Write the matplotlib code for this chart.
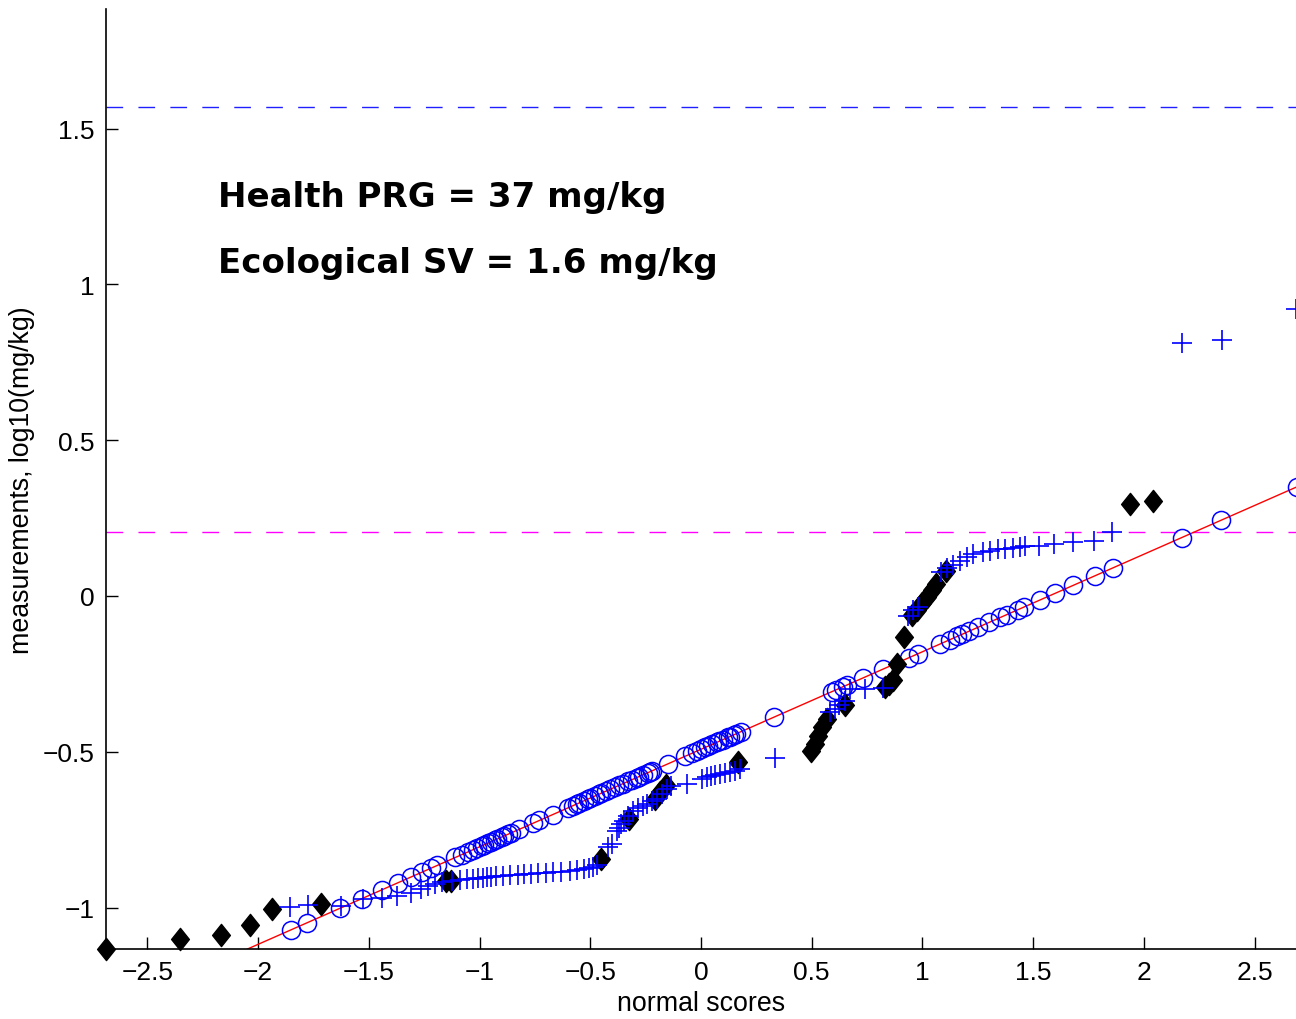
import matplotlib
matplotlib.use("Agg")
import matplotlib.pyplot as plt
from matplotlib.path import Path

# normal-score plot of three sample sets (log10 mg/kg)

# set 1: open circles
circ_x = [-1.85, -1.78, -1.63, -1.53, -1.44, -1.37, -1.31, -1.26, -1.22, -1.19, -1.11, -1.08, -1.05,
          -1.03, -1.01, -0.99, -0.98, -0.96, -0.95, -0.93, -0.92, -0.90, -0.89, -0.87, -0.86,
          -0.82, -0.76, -0.73, -0.67, -0.60,
          -0.58, -0.56, -0.55, -0.53, -0.51, -0.50, -0.48, -0.46, -0.45, -0.43, -0.41, -0.39,
          -0.37, -0.35, -0.33, -0.31, -0.29, -0.28, -0.26, -0.24, -0.23, -0.22,
          -0.15, -0.07,
          -0.04, -0.02, 0.00, 0.02, 0.03, 0.05, 0.07, 0.08, 0.10, 0.12, 0.13, 0.15, 0.16, 0.18,
          0.33,
          0.59, 0.61, 0.64, 0.66, 0.73, 0.82, 0.94, 0.98, 1.08, 1.125, 1.155, 1.18, 1.21, 1.25,
          1.30, 1.35, 1.38, 1.43, 1.46, 1.53, 1.60, 1.68, 1.78, 1.86, 2.17, 2.35, 2.69]
circ_y = [-1.071, -1.049, -1.002, -0.971, -0.943, -0.921, -0.902, -0.886, -0.874, -0.864, -0.839, -0.830, -0.821,
          -0.814, -0.808, -0.802, -0.799, -0.792, -0.789, -0.783, -0.780, -0.774, -0.771, -0.764, -0.761,
          -0.749, -0.730, -0.720, -0.702, -0.680,
          -0.674, -0.667, -0.664, -0.658, -0.652, -0.649, -0.642, -0.636, -0.633, -0.627, -0.620, -0.614,
          -0.608, -0.602, -0.595, -0.589, -0.583, -0.580, -0.573, -0.567, -0.564, -0.561,
          -0.539, -0.514,
          -0.505, -0.498, -0.492, -0.486, -0.483, -0.476, -0.470, -0.467, -0.461, -0.454, -0.451, -0.445, -0.442, -0.436,
          -0.389,
          -0.307, -0.301, -0.292, -0.285, -0.264, -0.235, -0.198, -0.185, -0.154, -0.140, -0.130, -0.123, -0.113, -0.101,
          -0.085, -0.069, -0.060, -0.044, -0.035, -0.013, 0.009, 0.034, 0.065, 0.090, 0.187, 0.244, 0.350]

# set 2: plus signs
plus_x = [-1.856, -1.775, -1.626, -1.527, -1.441, -1.373, -1.310, -1.265, -1.233, -1.201, -1.170, -1.125,
          -1.089, -1.057, -1.030, -1.007, -0.985, -0.967, -0.949, -0.926, -0.894, -0.863, -0.827, -0.799,
          -0.768, -0.736, -0.700, -0.668, -0.632, -0.592, -0.560, -0.528, -0.506, -0.488, -0.470,
          -0.420, -0.402, -0.379, -0.370, -0.361, -0.348, -0.330, -0.307, -0.285, -0.262, -0.244, -0.221,
          -0.199, -0.176, -0.154, -0.136, -0.063, 0.005, 0.027, 0.045, 0.063, 0.086, 0.108, 0.131, 0.154,
          0.176, 0.334, 0.583, 0.605, 0.623, 0.650, 0.673, 0.741, 0.822, 0.935, 0.958, 0.980,
          1.084, 1.111, 1.138, 1.170, 1.201, 1.229, 1.274, 1.305, 1.341, 1.373, 1.409, 1.441, 1.463,
          1.527, 1.594, 1.680, 1.775, 1.856, 2.173, 2.353, 2.687]
plus_y = [-0.998, -0.992, -0.995, -0.972, -0.969, -0.963, -0.953, -0.940, -0.931, -0.924, -0.918, -0.915,
          -0.911, -0.908, -0.908, -0.905, -0.905, -0.902, -0.902, -0.899, -0.899, -0.895, -0.895, -0.892,
          -0.892, -0.889, -0.889, -0.886, -0.886, -0.883, -0.879, -0.876, -0.873, -0.870, -0.863,
          -0.806, -0.796, -0.754, -0.745, -0.732, -0.722, -0.706, -0.690, -0.680, -0.674, -0.668, -0.658,
          -0.651, -0.635, -0.619, -0.610, -0.603, -0.587, -0.581, -0.578, -0.574, -0.571, -0.568, -0.565, -0.562,
          -0.555, -0.520, -0.372, -0.363, -0.350, -0.337, -0.298, -0.298, -0.295, -0.064, -0.045, -0.035,
          0.077, 0.090, 0.099, 0.112, 0.125, 0.135, 0.141, 0.144, 0.151, 0.151, 0.154, 0.157, 0.160,
          0.160, 0.167, 0.173, 0.177, 0.205, 0.812, 0.822, 0.921]

# set 3: filled diamonds
diam_x = [-2.687, -2.353, -2.168, -2.037, -1.938, -1.716, -1.152, -1.129, -0.452, -0.325, -0.208,
          -0.185, -0.158, 0.167, 0.497, 0.515, 0.528, 0.547, 0.569, 0.650, 0.831, 0.849, 0.867,
          0.885, 0.917, 0.953, 0.976, 0.998, 1.021, 1.043, 1.061, 1.107, 1.938, 2.042]
diam_y = [-1.133, -1.101, -1.088, -1.056, -1.005, -0.988, -0.915, -0.915, -0.844, -0.716, -0.651,
          -0.629, -0.607, -0.533, -0.497, -0.475, -0.449, -0.420, -0.395, -0.350, -0.292, -0.282, -0.270,
          -0.218, -0.132, -0.061, -0.045, -0.022, -0.003, 0.019, 0.039, 0.080, 0.295, 0.305]

# fitted line for set 1
fit_intercept = -0.492
fit_slope = 0.313

# screening levels, log10(mg/kg)
health_prg = 1.568   # log10(37)
eco_sv = 0.204       # log10(1.6)

xticks = [-2.5, -2, -1.5, -1, -0.5, 0, 0.5, 1, 1.5, 2, 2.5]
yticks = [-1, -0.5, 0, 0.5, 1, 1.5]

plt.rcParams['font.family'] = ['Liberation Sans', 'DejaVu Sans']

fig = plt.figure(figsize=(12.96, 10.2), dpi=100)
ax = fig.add_axes([106 / 1296, 1 - 950 / 1020, 1 - 106 / 1296, (950 - 10) / 1020])

ax.axhline(health_prg, color='#2020ff', lw=1.0, dashes=(12, 11))
ax.axhline(eco_sv, color='#ff00ff', lw=1.0, dashes=(12, 11))
ax.axline((0, fit_intercept), slope=fit_slope, color='red', lw=1.0)

ax.plot(circ_x, circ_y, 'o', mfc='none', mec='blue', ms=13, mew=1.1, clip_on=False)

diamond = Path([(0, 1), (0.8, 0), (0, -1), (-0.8, 0), (0, 1)],
               [Path.MOVETO, Path.LINETO, Path.LINETO, Path.LINETO, Path.CLOSEPOLY])
ax.plot(diam_x, diam_y, ls='none', marker=diamond, color='black', ms=16, clip_on=False)
ax.plot(plus_x, plus_y, '+', color='blue', ms=14, mew=1.2, clip_on=False)

ax.text(-2.182, 1.252, 'Health PRG = 37 mg/kg', fontsize=24.5, fontweight='bold',
        family='DejaVu Sans', va='baseline')
ax.text(-2.182, 1.040, 'Ecological SV = 1.6 mg/kg', fontsize=24.5, fontweight='bold',
        family='DejaVu Sans', va='baseline')

ax.set_xlim(-2.687, 2.687)
ax.set_ylim(-1.133, 1.884)
ax.set_xticks(xticks)
ax.set_xticklabels([f'{t:g}'.replace('-', '\u2212') for t in xticks])
ax.set_yticks(yticks)
ax.set_yticklabels([f'{t:g}'.replace('-', '\u2212') for t in yticks])
ax.tick_params(direction='in', length=8.5, width=1, labelsize=19, pad=8)

for s in ['top', 'right']:
    ax.spines[s].set_visible(False)
for s in ['left', 'bottom']:
    ax.spines[s].set_linewidth(1.2)

ax.set_xlabel('normal scores', fontsize=19.3, labelpad=4)
ax.set_ylabel('measurements, log10(mg/kg)', fontsize=19.3, labelpad=6)

fig.savefig('out.png', dpi=100)
